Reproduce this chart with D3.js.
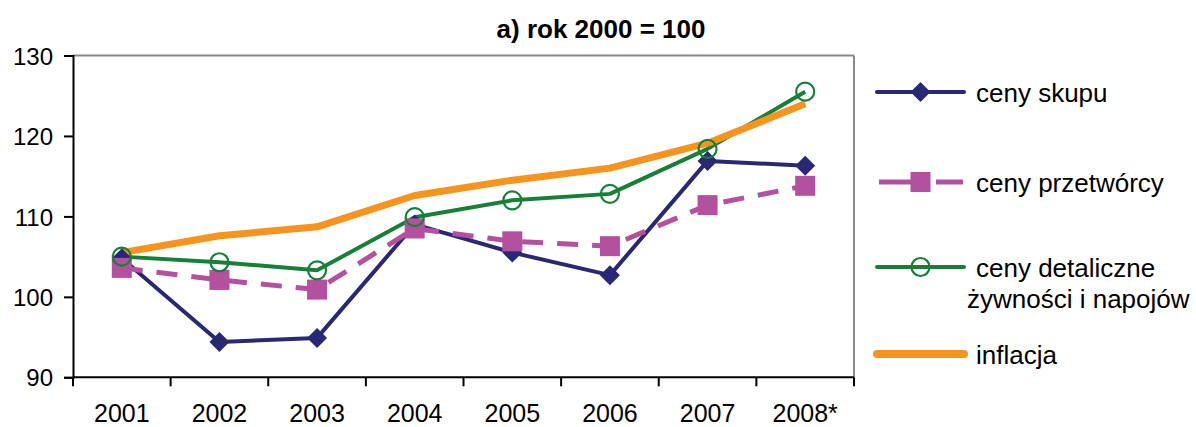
<!DOCTYPE html>
<html><head><meta charset="utf-8">
<script src="https://cdn.jsdelivr.net/npm/d3@7"></script>
<style>body{margin:0;background:#fff}svg{display:block}text{font-family:Arial,"Liberation Sans",sans-serif}</style>
</head><body><svg id="c" width="1196" height="427"></svg>
<script>
const years = ["2001","2002","2003","2004","2005","2006","2007","2008*"];
const cenySkupu = [104.8, 94.4, 94.9, 109.0, 105.5, 102.7, 116.9, 116.3];
const cenyPrzetworcy = [103.6, 102.1, 100.9, 108.5, 106.9, 106.3, 111.4, 113.8];
const cenyDetaliczne = [105.0, 104.3, 103.3, 109.9, 112.0, 112.8, 118.4, 125.5];
const inflacja = [105.5, 107.6, 108.7, 112.6, 114.5, 116.0, 119.1, 124.0];
const yTicks = [90, 100, 110, 120, 130];
const title = "a) rok 2000 = 100";
const seriesNames = ["ceny skupu", "ceny przetwórcy", "ceny detaliczne|żywności i napojów", "inflacja"];

const svg = d3.select("#c");
const L = 73, R = 854, T = 55.5, B = 377.3;
const x = d3.scaleBand().domain(years).range([L, R]);
const y = d3.scaleLinear().domain([90, 130]).range([B, T]);

const series = [
  {name: seriesNames[0], vals: cenySkupu, color: "#2a2874", w: 4, dash: null, marker: "diamond"},
  {name: seriesNames[1], vals: cenyPrzetworcy, color: "#b4519e", w: 5, dash: "21,14", marker: "square"},
  {name: seriesNames[2], vals: cenyDetaliczne, color: "#178038", w: 4, dash: null, marker: "circle"},
  {name: seriesNames[3], vals: inflacja, color: "#f7941d", w: 7, dash: null, marker: null}
];

// frame: top and right gray
svg.append("line").attr("x1", L).attr("x2", R).attr("y1", T).attr("y2", T).attr("stroke", "#888").attr("stroke-width", 2);
svg.append("line").attr("x1", R).attr("x2", R).attr("y1", T).attr("y2", B).attr("stroke", "#888").attr("stroke-width", 2);

// y axis
const yAxis = d3.axisLeft(y).tickValues(yTicks).tickSize(9).tickPadding(11);
const gy = svg.append("g").attr("transform", `translate(${L},0)`).call(yAxis);
gy.select(".domain").attr("stroke", "#000").attr("stroke-width", 2);
gy.selectAll(".tick line").attr("stroke", "#000").attr("stroke-width", 2);
gy.selectAll(".tick text").attr("font-size", 24).attr("fill", "#000").attr("font-family", "Arial,'Liberation Sans',sans-serif").attr("dy", "0.36em");

// x axis
const gx = svg.append("g").attr("transform", `translate(0,${B})`);
gx.append("line").attr("x1", L).attr("x2", R).attr("stroke", "#000").attr("stroke-width", 2);
const bounds = years.map(d => x(d)).concat([x(years[years.length-1]) + x.bandwidth()]);
gx.selectAll(".xt").data(bounds).enter().append("line")
  .attr("x1", d => d).attr("x2", d => d).attr("y1", 0).attr("y2", 9)
  .attr("stroke", "#000").attr("stroke-width", 2);
gx.selectAll(".xl").data(years).enter().append("text")
  .attr("x", d => x(d) + x.bandwidth()/2).attr("y", 45)
  .attr("text-anchor", "middle").attr("font-size", 25).attr("fill", "#000").text(d => d);

// title
svg.append("text").attr("x", 601).attr("y", 38).attr("text-anchor", "middle")
  .attr("font-size", 26).attr("font-weight", "bold").text(title);

const cx = i => x(years[i]) + x.bandwidth()/2;
const line = d3.line().x((d, i) => cx(i)).y(d => y(d));

series.forEach(s => {
  svg.append("path").attr("d", line(s.vals)).attr("fill", "none")
    .attr("stroke", s.color).attr("stroke-width", s.w)
    .attr("stroke-dasharray", s.dash).attr("stroke-linejoin", "round");
});

function drawMarker(g, type, px, py, color) {
  if (type === "diamond") {
    g.append("path").attr("d", `M${px},${py-10}L${px+10},${py}L${px},${py+10}L${px-10},${py}Z`).attr("fill", color);
  } else if (type === "square") {
    g.append("rect").attr("x", px-10).attr("y", py-10).attr("width", 20).attr("height", 20).attr("fill", color);
  } else if (type === "circle") {
    g.append("circle").attr("cx", px).attr("cy", py).attr("r", 9).attr("fill", "none").attr("stroke", color).attr("stroke-width", 2.2);
  }
}
series.forEach(s => {
  if (!s.marker) return;
  const g = svg.append("g");
  s.vals.forEach((v, i) => drawMarker(g, s.marker, cx(i), y(v), s.color));
});

// legend
const legY = [92, 182, 267, 354];
series.forEach((s, i) => {
  const ly = legY[i];
  svg.append("line").attr("x1", s.dash ? 879 : 877).attr("x2", s.dash ? 963 : 964).attr("y1", ly).attr("y2", ly)
    .attr("stroke", s.color).attr("stroke-width", s.marker ? s.w : 8).attr("stroke-linecap", s.dash ? "butt" : "round")
    .attr("stroke-dasharray", s.dash ? "50,7,27" : null);
  if (s.marker) drawMarker(svg.append("g"), s.marker, 920.5, ly, s.color);
  const parts = s.name.split("|");
  const t = svg.append("text").attr("font-size", 26).attr("fill", "#000");
  t.append("tspan").attr("x", 976).attr("y", ly + 10).text(parts[0]);
  if (parts[1]) t.append("tspan").attr("x", 967).attr("y", ly + 41).text(parts[1]);
});
</script></body></html>
